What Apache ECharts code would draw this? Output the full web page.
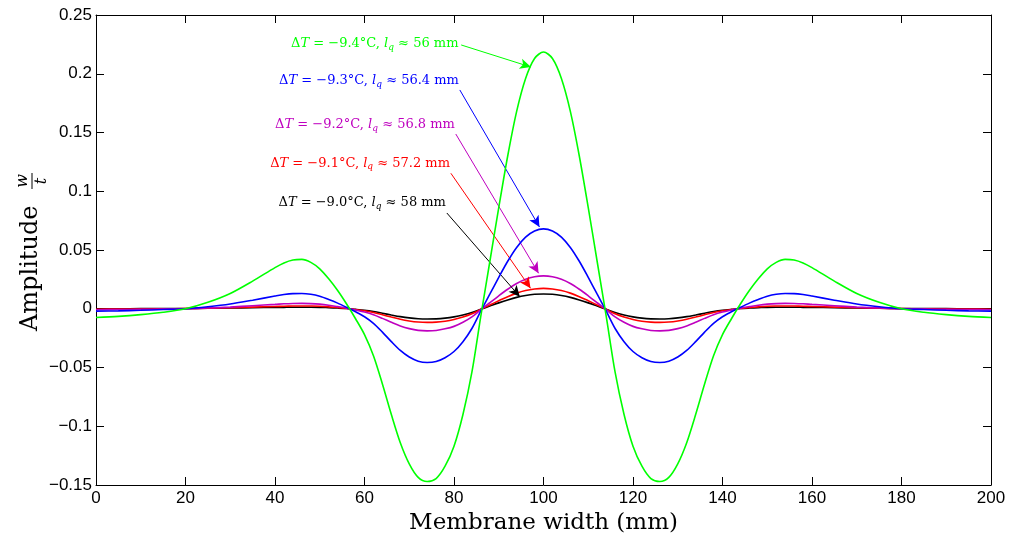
<!DOCTYPE html>
<html>
<head>
<meta charset="utf-8">
<script src="https://cdn.jsdelivr.net/npm/echarts@6/dist/echarts.min.js"></script>
<style>
html,body{margin:0;padding:0;background:#fff;}
#chart{width:1011px;height:540px;}
</style>
</head>
<body>
<div id="chart"></div>
<script>
// ---- data ----
const xs = [0,5,10,15,20,25,30,35,40,
  42,44,46,48,50,52,54,56,58,60,62,64,66,68,70,72,74,76,78,80,82,84,86,88,90,92,94,96,98,100,
  102,104,106,108,110,112,114,116,118,120,122,124,126,128,130,132,134,136,138,140,142,144,146,148,150,152,154,156,158,
  160,165,170,175,180,185,190,195,200];

const green = [-0.0075,-0.0065,-0.005,-0.003,0.000,0.0055,0.013,0.0235,0.035,
  0.039,0.0415,0.042,0.0395,0.034,0.0255,0.0155,0.004,-0.0085,-0.022,-0.040,-0.064,-0.090,-0.114,-0.132,-0.1435,-0.147,-0.1445,-0.134,-0.117,-0.090,-0.054,-0.006,0.040,0.086,0.130,0.168,0.196,0.213,0.2185,
  0.213,0.196,0.168,0.130,0.086,0.040,-0.006,-0.054,-0.090,-0.117,-0.134,-0.1445,-0.147,-0.1435,-0.132,-0.114,-0.090,-0.064,-0.040,-0.022,-0.0085,0.004,0.0155,0.0255,0.034,0.0395,0.042,0.0415,0.039,
  0.035,0.0235,0.013,0.0055,0.000,-0.003,-0.005,-0.0065,-0.0075];

const blue = [-0.002,-0.0018,-0.0013,-0.0007,0.000,0.0017,0.004,0.0073,0.0108,
  0.0121,0.0129,0.0130,0.0123,0.0106,0.0079,0.0048,0.0012,-0.0026,-0.0068,-0.0124,-0.0199,-0.0280,-0.0355,-0.0411,-0.0446,-0.0457,-0.0449,-0.0417,-0.0364,-0.0280,-0.0168,-0.0019,0.0124,0.0267,0.0404,0.0522,0.0610,0.0662,0.0680,
  0.0662,0.0610,0.0522,0.0404,0.0267,0.0124,-0.0019,-0.0168,-0.0280,-0.0364,-0.0417,-0.0449,-0.0457,-0.0446,-0.0411,-0.0355,-0.0280,-0.0199,-0.0124,-0.0068,-0.0026,0.0012,0.0048,0.0079,0.0106,0.0123,0.0130,0.0129,0.0121,
  0.0108,0.0073,0.004,0.0017,0.000,-0.0007,-0.0013,-0.0018,-0.002];

const magenta = [-0.0008,-0.0007,-0.0005,-0.0003,0.000,0.0006,0.0014,0.0026,0.0037,
  0.0042,0.0045,0.0046,0.0044,0.0039,0.0030,0.0018,0.0005,-0.0011,-0.0028,-0.0051,-0.0082,-0.0115,-0.0146,-0.0169,-0.0184,-0.0188,-0.0185,-0.0171,-0.0150,-0.0115,-0.0069,-0.0008,0.0051,0.0110,0.0166,0.0215,0.0251,0.0273,0.0280,
  0.0273,0.0251,0.0215,0.0166,0.0110,0.0051,-0.0008,-0.0069,-0.0115,-0.0150,-0.0171,-0.0185,-0.0188,-0.0184,-0.0169,-0.0146,-0.0115,-0.0082,-0.0051,-0.0028,-0.0011,0.0005,0.0018,0.0030,0.0039,0.0044,0.0046,0.0045,0.0042,
  0.0037,0.0026,0.0014,0.0006,0.000,-0.0003,-0.0005,-0.0007,-0.0008];

const red = [-0.0004,-0.0003,-0.0002,-0.0001,0.0001,0.0004,0.0008,0.0014,0.0019,
  0.0021,0.0023,0.0024,0.0023,0.0021,0.0016,0.0010,0.0003,-0.0007,-0.0017,-0.0032,-0.0051,-0.0071,-0.0090,-0.0104,-0.0113,-0.0116,-0.0114,-0.0106,-0.0092,-0.0071,-0.0043,-0.0005,0.0032,0.0068,0.0103,0.0133,0.0155,0.0168,0.0173,
  0.0168,0.0155,0.0133,0.0103,0.0068,0.0032,-0.0005,-0.0043,-0.0071,-0.0092,-0.0106,-0.0114,-0.0116,-0.0113,-0.0104,-0.0090,-0.0071,-0.0051,-0.0032,-0.0017,-0.0007,0.0003,0.0010,0.0016,0.0021,0.0023,0.0024,0.0023,0.0021,
  0.0019,0.0014,0.0008,0.0004,0.0001,-0.0001,-0.0002,-0.0003,-0.0004];

const black = [0.0000,0.0000,0.0001,0.0001,0.0002,0.0004,0.0006,0.0009,0.0011,
  0.0012,0.0013,0.0013,0.0013,0.0012,0.0009,0.0006,0.0002,-0.0005,-0.0013,-0.0024,-0.0038,-0.0053,-0.0067,-0.0078,-0.0085,-0.0087,-0.0086,-0.0080,-0.0069,-0.0053,-0.0032,-0.0004,0.0023,0.0050,0.0075,0.0097,0.0113,0.0123,0.0126,
  0.0123,0.0113,0.0097,0.0075,0.0050,0.0023,-0.0004,-0.0032,-0.0053,-0.0069,-0.0080,-0.0086,-0.0087,-0.0085,-0.0078,-0.0067,-0.0053,-0.0038,-0.0024,-0.0013,-0.0005,0.0002,0.0006,0.0009,0.0012,0.0013,0.0013,0.0013,0.0012,
  0.0011,0.0009,0.0006,0.0004,0.0002,0.0001,0.0001,0.0000,0.0000];

const deltaT = ['−9.0', '−9.1', '−9.2', '−9.3', '−9.4'];
const lq     = ['58', '57.2', '56.8', '56.4', '56'];
const xTicks = [0, 200, 20];
const yTicks = [-0.15, 0.25, 0.05];

// ---- styling / annotation placement ----
const seriesDefs = [
  {data: black,   color: '#000000', label: [78.2, 0.0900], from: [78.4, 0.0815], to: [94.7, 0.0103]},
  {data: red,     color: '#ff0000', label: [79.1, 0.1236], from: [79.3, 0.1153], to: [97.1, 0.0174]},
  {data: magenta, color: '#bf00bf', label: [80.2, 0.1564], from: [80.4, 0.1487], to: [98.9, 0.0302]},
  {data: blue,    color: '#0000ff', label: [81.1, 0.1938], from: [81.3, 0.1862], to: [99.1, 0.0696]},
  {data: green,   color: '#00ff00', label: [81.0, 0.2253], from: [81.6, 0.2245], to: [97.2, 0.2057]}
];

const SERIF = 'DejaVu Serif';
const SANS = 'Liberation Sans';

function richFor(color) {
  return {
    r: {fontFamily: SERIF, fontSize: 13, color: color},
    i: {fontFamily: SERIF, fontSize: 13, fontStyle: 'italic', color: color},
    s: {fontFamily: SERIF, fontSize: 9, fontStyle: 'italic', color: color, padding: [7, 0, 0, 0]}
  };
}

const series = seriesDefs.map((d, k) => ({
  type: 'line',
  data: xs.map((x, j) => [x, d.data[j]]),
  showSymbol: false,
  smooth: 0.3,
  lineStyle: {color: d.color, width: 1.6},
  itemStyle: {color: d.color},
  z: 2 + k,
  animation: false,
  markLine: {
    silent: true,
    animation: false,
    symbol: ['none', 'arrow'],
    symbolSize: [8, 11],
    label: {show: false},
    lineStyle: {color: d.color, width: 1, type: 'solid'},
    data: [[{coord: d.from}, {coord: d.to}]]
  },
  markPoint: {
    silent: true,
    animation: false,
    symbol: 'circle',
    symbolSize: 0,
    itemStyle: {color: 'rgba(0,0,0,0)'},
    label: {
      show: true,
      position: 'left',
      distance: 0,
      formatter: '{r|Δ}{i|T}{r| = ' + deltaT[k] + '°C, }{i|l}{s|q}{r| ≈ ' + lq[k] + ' mm}',
      rich: richFor(d.color)
    },
    data: [{coord: d.label}]
  }
}));

const axisLineStyle = {show: true, onZero: false, lineStyle: {color: '#000', width: 1}};
const tickStyle = {show: true, inside: true, length: 8, lineStyle: {color: '#000', width: 1}};

const option = {
  backgroundColor: '#fff',
  animation: false,
  grid: {left: 96, right: 20, top: 15, bottom: 55, containLabel: false},
  xAxis: [
    {
      type: 'value', min: xTicks[0], max: xTicks[1], interval: xTicks[2],
      axisLine: axisLineStyle, axisTick: tickStyle, splitLine: {show: false},
      axisLabel: {color: '#000', fontSize: 17, fontFamily: SANS, margin: 5},
      name: 'Membrane width (mm)', nameLocation: 'middle', nameGap: 22,
      nameTextStyle: {fontFamily: SERIF, fontSize: 23, color: '#000', verticalAlign: 'top'}
    },
    {
      type: 'value', position: 'top', min: xTicks[0], max: xTicks[1], interval: xTicks[2],
      axisLine: axisLineStyle, axisTick: tickStyle, splitLine: {show: false},
      axisLabel: {show: false}
    }
  ],
  yAxis: [
    {
      type: 'value', min: yTicks[0], max: yTicks[1], interval: yTicks[2],
      axisLine: axisLineStyle, axisTick: tickStyle, splitLine: {show: false},
      axisLabel: {
        color: '#000', fontSize: 17, fontFamily: SANS, margin: 4,
        formatter: v => String(+v.toFixed(2)).replace('-', '−')
      }
    },
    {
      type: 'value', position: 'right', min: yTicks[0], max: yTicks[1], interval: yTicks[2],
      axisLine: axisLineStyle, axisTick: tickStyle, splitLine: {show: false},
      axisLabel: {show: false}
    }
  ],
  graphic: [
    {
      type: 'group', x: 31, y: 331, rotation: Math.PI / 2,
      children: [
        {type: 'text', x: 0, y: 0, style: {text: 'Amplitude', fontFamily: SERIF, fontSize: 24, fill: '#000', textAlign: 'left', textVerticalAlign: 'middle'}},
        {type: 'text', x: 150, y: -8, style: {text: 'w', fontFamily: SERIF, fontSize: 16, fontStyle: 'italic', fill: '#000', textAlign: 'center', textVerticalAlign: 'middle'}},
        {type: 'line', shape: {x1: 142, y1: 1, x2: 158, y2: 1}, style: {stroke: '#000', lineWidth: 1}},
        {type: 'text', x: 150, y: 11, style: {text: 't', fontFamily: SERIF, fontSize: 16, fontStyle: 'italic', fill: '#000', textAlign: 'center', textVerticalAlign: 'middle'}}
      ]
    }
  ],
  series: series
};

const chart = echarts.init(document.getElementById('chart'), null, {renderer: 'canvas'});
chart.setOption(option);
</script>
</body>
</html>
